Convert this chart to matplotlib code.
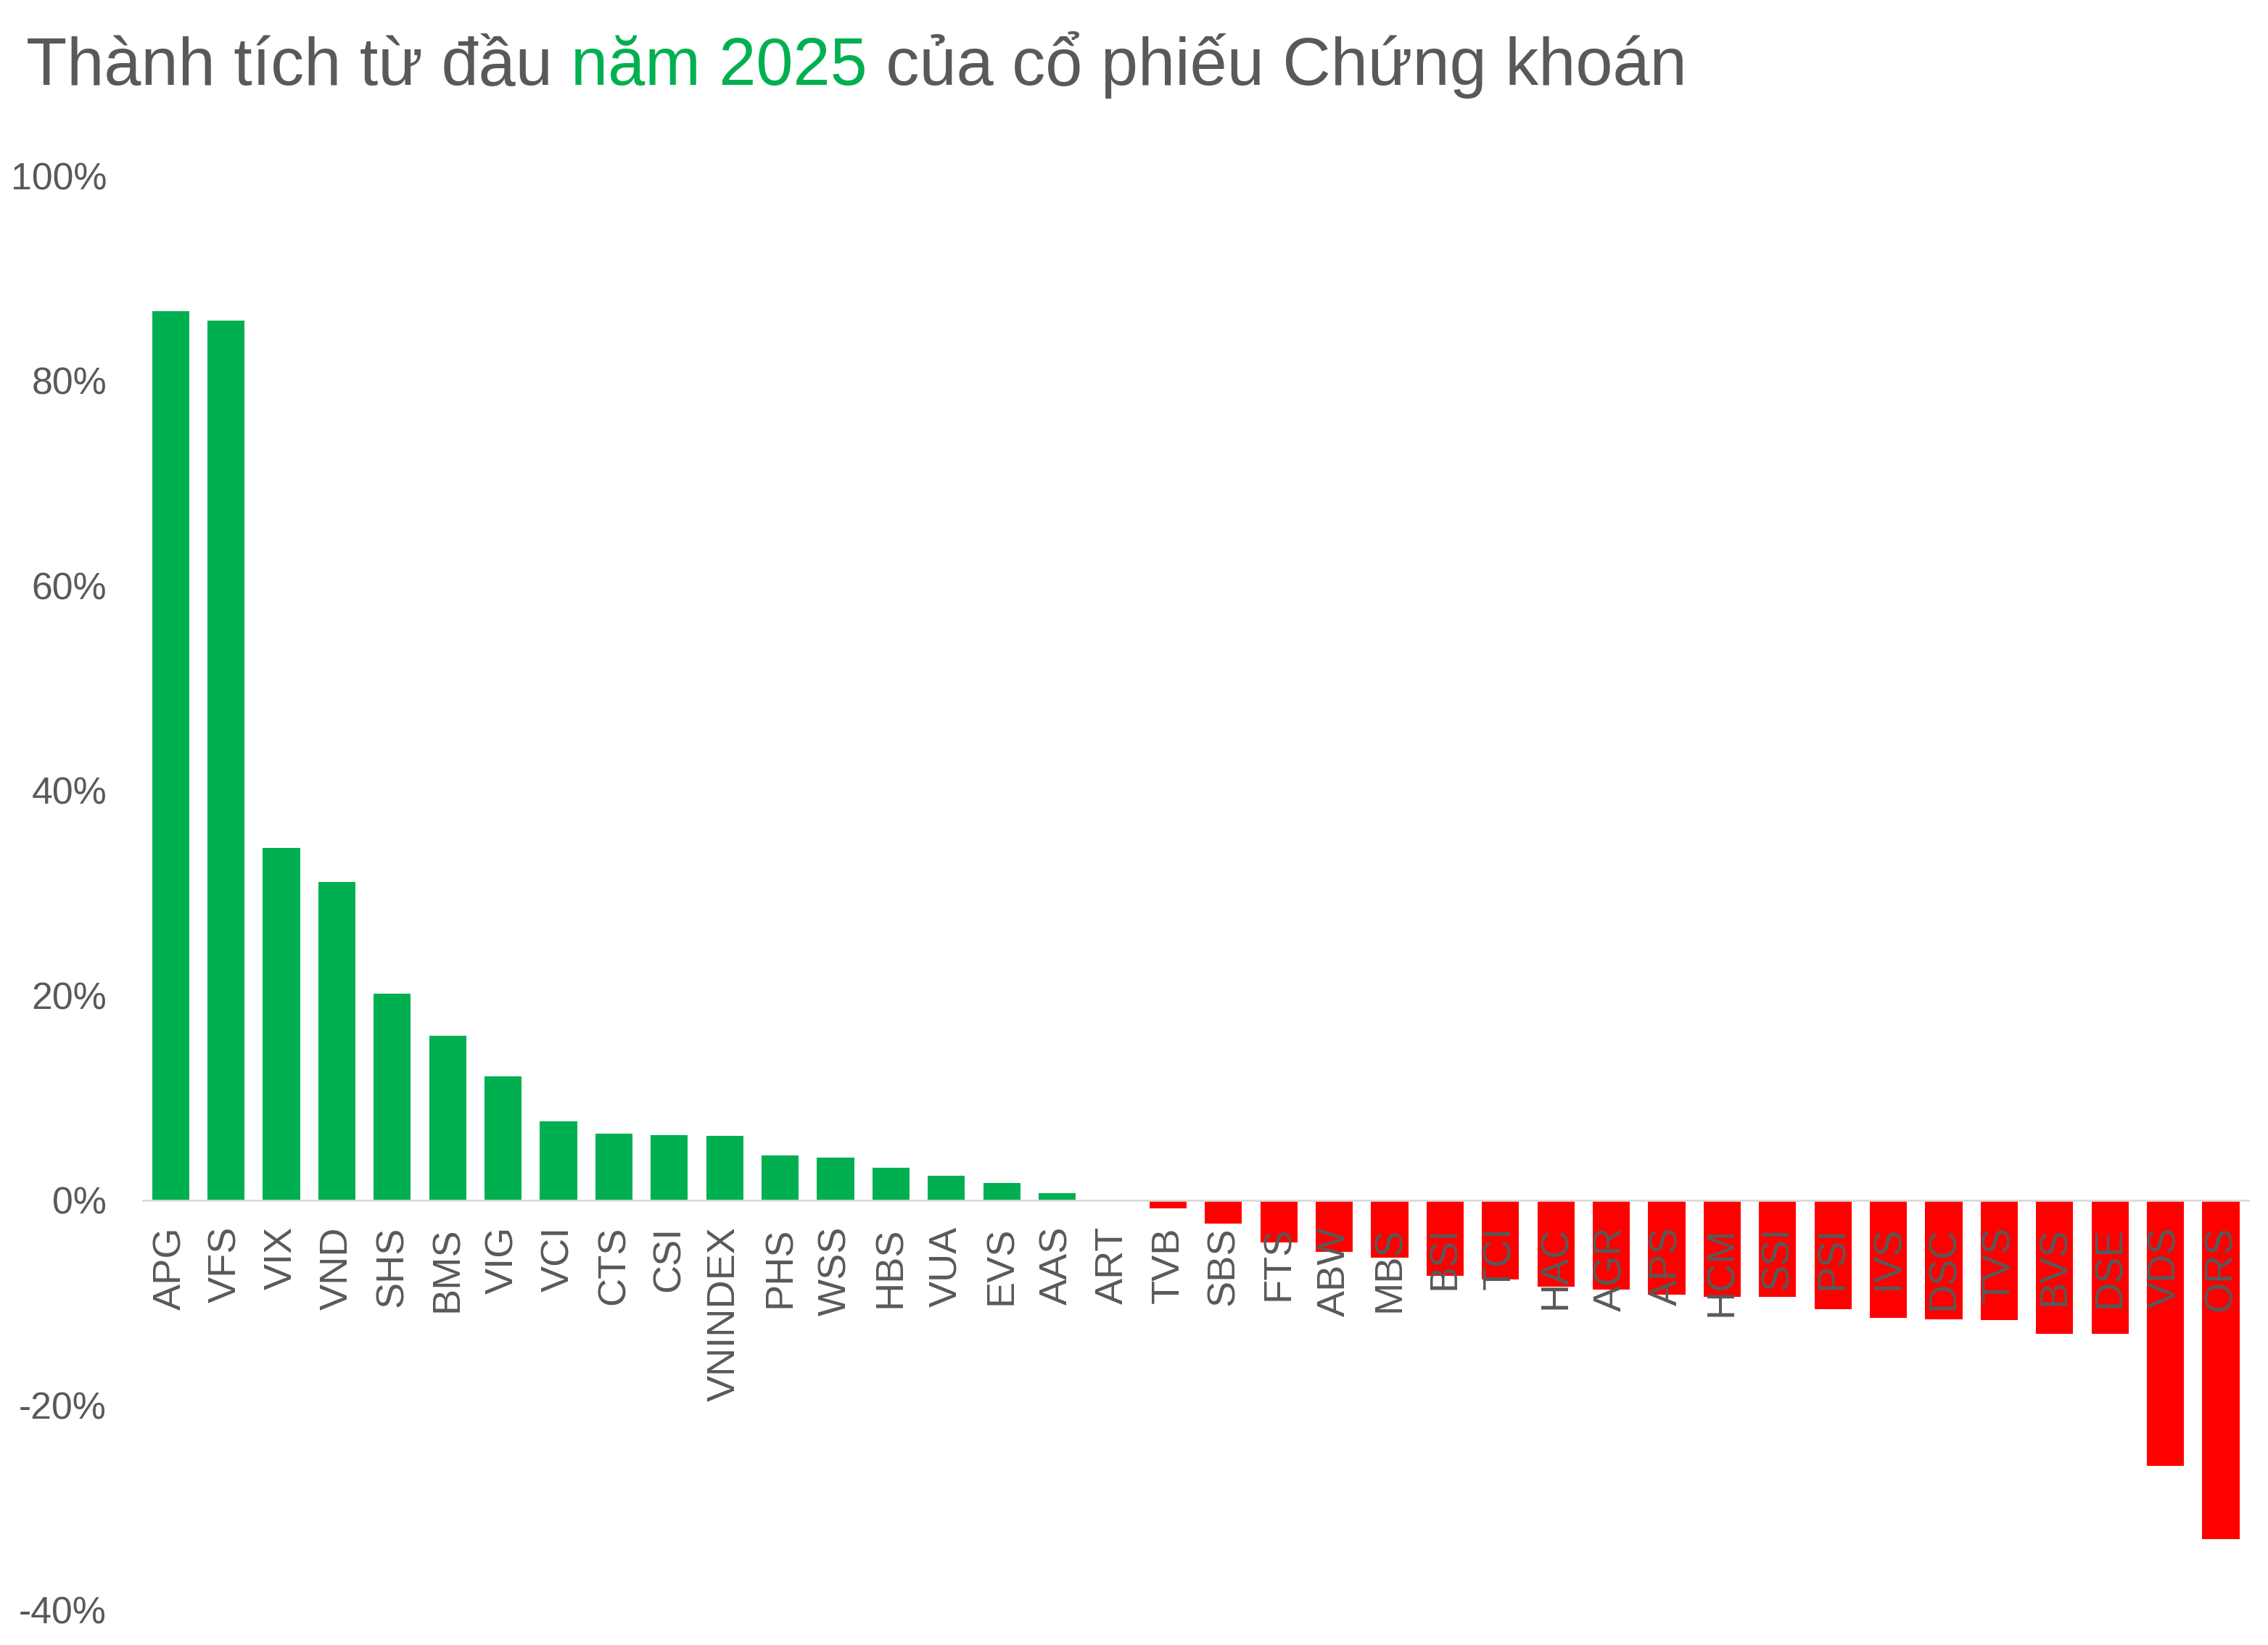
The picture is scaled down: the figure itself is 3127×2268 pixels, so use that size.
import matplotlib
matplotlib.use('Agg')
import numpy as np
from matplotlib import pyplot as plt
from matplotlib.ticker import FuncFormatter

# ma co phieu va thanh tich tu dau nam (%)
tickers = ['APG', 'VFS', 'VIX', 'VND', 'SHS', 'BMS', 'VIG', 'VCI', 'CTS', 'CSI',
           'VNINDEX', 'PHS', 'WSS', 'HBS', 'VUA', 'EVS', 'AAS', 'ART', 'TVB', 'SBS',
           'FTS', 'ABW', 'MBS', 'BSI', 'TCI', 'HAC', 'AGR', 'APS', 'HCM', 'SSI',
           'PSI', 'IVS', 'DSC', 'TVS', 'BVS', 'DSE', 'VDS', 'ORS']
ytd = [86.8, 85.9, 34.4, 31.1, 20.2, 16.1, 12.1, 7.7, 6.5, 6.4,
       6.3, 4.4, 4.2, 3.2, 2.4, 1.7, 0.7, 0.0, -0.8, -2.3,
       -4.1, -5.0, -5.6, -7.4, -7.7, -8.4, -8.7, -9.2, -9.4, -9.4,
       -10.6, -11.5, -11.6, -11.7, -13.0, -13.0, -25.9, -33.1]
y_ticks = [-40, -20, 0, 20, 40, 60, 80, 100]

title_parts = ['Thành tích từ đầu ', 'năm 2025', ' của cổ phiếu Chứng khoán']

grey = '#595959'
green = '#00B050'
red = '#FF0000'

plt.rcParams['font.family'] = ['Liberation Sans', 'DejaVu Sans']

fig = plt.figure(figsize=(3127/200, 2268/200), dpi=200)
ax = fig.add_axes([0.063, 0.0212, 0.9284, 0.8719])

# truc 0 phai dat truoc khi ghi nhan truc x
for s in ['top', 'right', 'left']:
    ax.spines[s].set_visible(False)
ax.spines['bottom'].set_position(('data', 0))
ax.spines['bottom'].set_color('#D9D9D9')
ax.spines['bottom'].set_linewidth(1.0)

x = np.arange(len(tickers))
colors = [green if v >= 0 else red for v in ytd]
ax.bar(x, ytd, width=0.67, color=colors)

ax.set_xlim(-0.5, len(tickers) - 0.5)
ax.set_ylim(-40, 100)
ax.set_yticks(y_ticks)
ax.yaxis.set_major_formatter(FuncFormatter(lambda v, p: f'{v:.0f}%'))

ax.tick_params(axis='x', length=0, pad=13, colors=grey, labelsize=19.5)
ax.tick_params(axis='y', length=0, pad=18, labelsize=18.7, colors=grey)
ax.set_xticks(x)
ax.set_xticklabels(tickers, rotation=90, va='top', ha='center')

# tieu de nhieu mau
fig.canvas.draw()
renderer = fig.canvas.get_renderer()
xpos = 36 / 3127
for i, part in enumerate(title_parts):
    t = fig.text(xpos, 1 - 117/2268, part, fontsize=33.1, va='baseline', ha='left',
                 color=green if i == 1 else grey)
    bb = t.get_window_extent(renderer)
    xpos = bb.x1 / fig.bbox.width

fig.savefig('out.png', dpi=200, facecolor='white')
